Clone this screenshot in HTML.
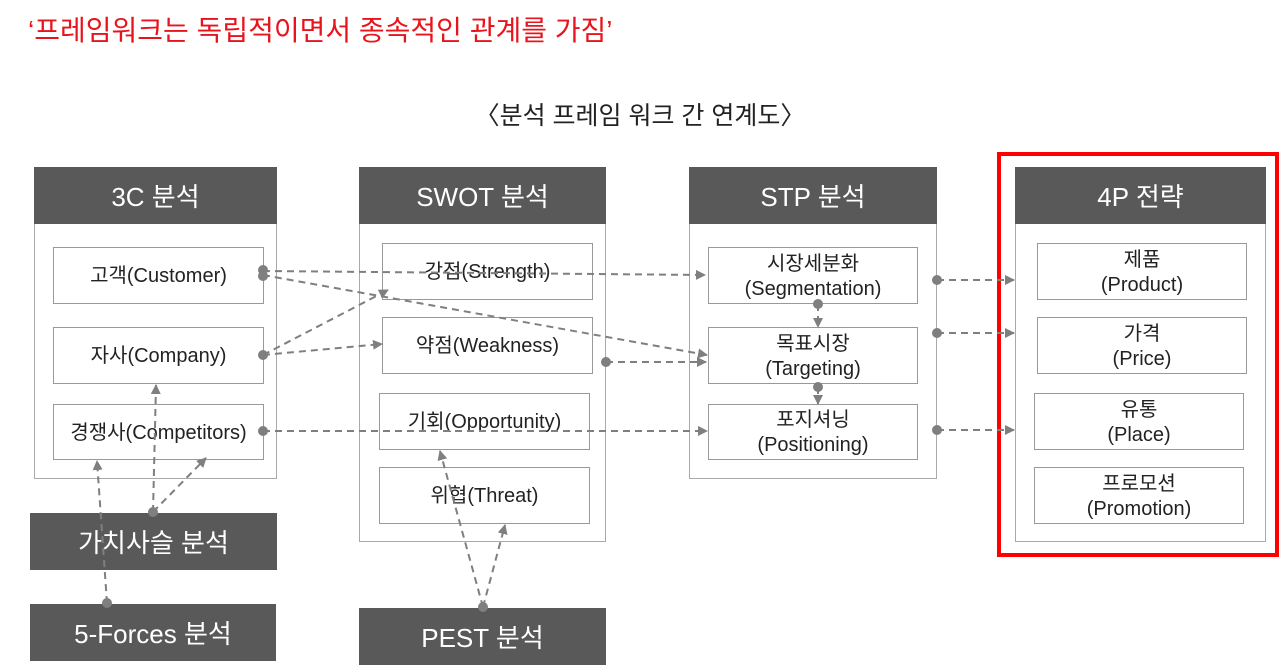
<!DOCTYPE html>
<html><head><meta charset="utf-8"><style>
body{margin:0;width:1280px;height:665px;background:#fff;position:relative;overflow:hidden;font-family:"Liberation Sans","Noto Sans CJK KR",sans-serif}
.a{position:absolute;box-sizing:border-box}
.h{background:#595959;color:#fff;font-size:26px;display:flex;align-items:center;justify-content:center}
.b{border:1.5px solid #aaa;background:#fff}
.i{border:1.5px solid #999;background:#fff;display:flex;align-items:center;justify-content:center;text-align:center;font-size:20px;color:#222;line-height:25px;padding-top:2px}
</style></head><body>
<div class="a" style="left:28px;top:9px;font-size:28px;color:#e8141b">‘프레임워크는 독립적이면서 종속적인 관계를 가짐’</div>
<div class="a" style="left:0;width:1280px;top:96px;text-align:center;font-size:25px;color:#222">〈분석 프레임 워크 간 연계도〉</div>

<div class="a b" style="left:34px;top:167px;width:243px;height:312px"></div>
<div class="a h" style="left:34px;top:167px;width:243px;height:57px">3C 분석</div>
<div class="a i" style="left:53px;top:247px;width:211px;height:57px">고객(Customer)</div>
<div class="a i" style="left:53px;top:327px;width:211px;height:57px">자사(Company)</div>
<div class="a i" style="left:53px;top:404px;width:211px;height:56px">경쟁사(Competitors)</div>

<div class="a b" style="left:359px;top:167px;width:247px;height:375px"></div>
<div class="a h" style="left:359px;top:167px;width:247px;height:57px">SWOT 분석</div>
<div class="a i" style="left:382px;top:243px;width:211px;height:57px">강점(Strength)</div>
<div class="a i" style="left:382px;top:317px;width:211px;height:57px">약점(Weakness)</div>
<div class="a i" style="left:379px;top:393px;width:211px;height:57px">기회(Opportunity)</div>
<div class="a i" style="left:379px;top:467px;width:211px;height:57px">위협(Threat)</div>

<div class="a b" style="left:689px;top:167px;width:248px;height:312px"></div>
<div class="a h" style="left:689px;top:167px;width:248px;height:57px">STP 분석</div>
<div class="a i" style="left:708px;top:247px;width:210px;height:57px">시장세분화<br>(Segmentation)</div>
<div class="a i" style="left:708px;top:327px;width:210px;height:57px">목표시장<br>(Targeting)</div>
<div class="a i" style="left:708px;top:404px;width:210px;height:56px">포지셔닝<br>(Positioning)</div>

<div class="a" style="left:997px;top:152px;width:282px;height:405px;border:4px solid #f00"></div>
<div class="a b" style="left:1015px;top:167px;width:251px;height:375px"></div>
<div class="a h" style="left:1015px;top:167px;width:251px;height:57px">4P 전략</div>
<div class="a i" style="left:1037px;top:243px;width:210px;height:57px">제품<br>(Product)</div>
<div class="a i" style="left:1037px;top:317px;width:210px;height:57px">가격<br>(Price)</div>
<div class="a i" style="left:1034px;top:393px;width:210px;height:57px">유통<br>(Place)</div>
<div class="a i" style="left:1034px;top:467px;width:210px;height:57px">프로모션<br>(Promotion)</div>

<div class="a h" style="left:30px;top:513px;width:247px;height:57px">가치사슬 분석</div>
<div class="a h" style="left:30px;top:604px;width:246px;height:57px">5-Forces 분석</div>
<div class="a h" style="left:359px;top:608px;width:247px;height:57px">PEST 분석</div>

<svg class="a" style="left:0;top:0" width="1280" height="665">
<defs><marker id="m" markerWidth="10" markerHeight="10" refX="9" refY="5" orient="auto" markerUnits="userSpaceOnUse"><path d="M0,0L10,5L0,10z" fill="#7f7f7f"/></marker></defs>
<g stroke="#7f7f7f" stroke-width="2" stroke-dasharray="7,5" fill="none" marker-end="url(#m)">
<line x1="263" y1="271" x2="705" y2="275"/>
<line x1="263" y1="275" x2="707" y2="355"/>
<line x1="263" y1="355" x2="388" y2="290"/>
<line x1="263" y1="355" x2="382" y2="344"/>
<line x1="263" y1="431" x2="707" y2="431"/>
<line x1="606" y1="362" x2="706" y2="362"/>
<line x1="937" y1="280" x2="1014" y2="280"/>
<line x1="937" y1="333" x2="1014" y2="333"/>
<line x1="937" y1="430" x2="1014" y2="430"/>
<line x1="818" y1="304" x2="818" y2="327"/>
<line x1="818" y1="387" x2="818" y2="404"/>
<line x1="153" y1="512" x2="156" y2="385"/>
<line x1="153" y1="512" x2="206" y2="458"/>
<line x1="107" y1="603" x2="97" y2="461"/>
<line x1="483" y1="607" x2="440" y2="451"/>
<line x1="483" y1="607" x2="505" y2="525"/>
</g>
<g fill="#7f7f7f">
<circle cx="263" cy="270" r="5"/><circle cx="263" cy="276" r="5"/><circle cx="263" cy="355" r="5"/><circle cx="263" cy="431" r="5"/>
<circle cx="606" cy="362" r="5"/><circle cx="937" cy="280" r="5"/><circle cx="937" cy="333" r="5"/><circle cx="937" cy="430" r="5"/>
<circle cx="818" cy="304" r="5"/><circle cx="818" cy="387" r="5"/><circle cx="153" cy="512" r="5"/><circle cx="107" cy="603" r="5"/><circle cx="483" cy="607" r="5"/>
</g>
</svg>
</body></html>
